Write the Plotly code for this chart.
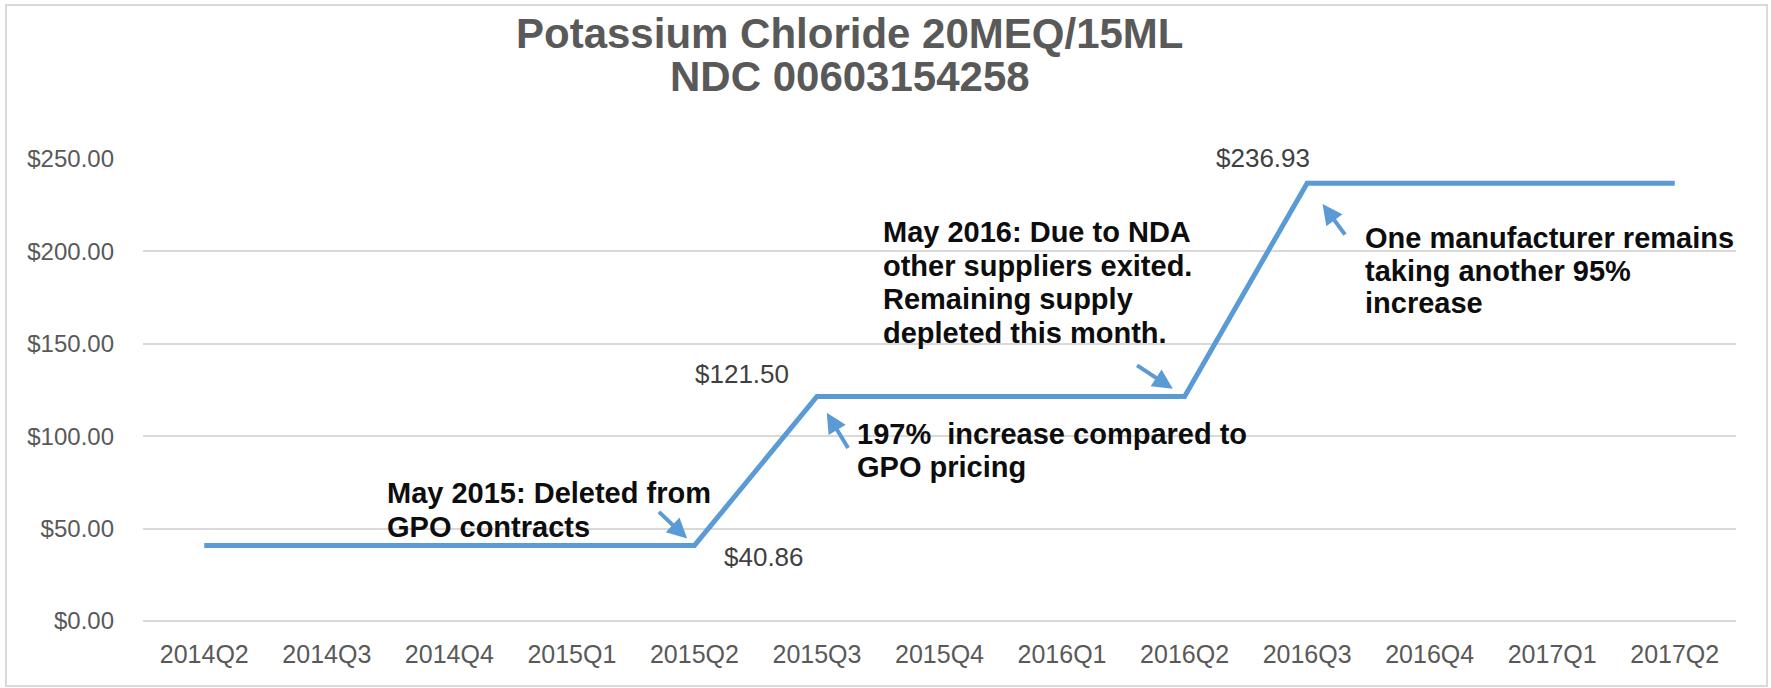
import plotly.graph_objects as go

quarters = ["2014Q2", "2014Q3", "2014Q4", "2015Q1", "2015Q2", "2015Q3", "2015Q4",
            "2016Q1", "2016Q2", "2016Q3", "2016Q4", "2017Q1", "2017Q2"]
prices = [40.86, 40.86, 40.86, 40.86, 40.86, 121.50, 121.50, 121.50, 121.50,
          236.93, 236.93, 236.93, 236.93]
y_ticks = [0, 50, 100, 150, 200, 250]
y_tick_labels = ["$0.00", "$50.00", "$100.00", "$150.00", "$200.00", "$250.00"]

title_lines = ["Potassium Chloride 20MEQ/15ML", "NDC 00603154258"]
note_2015 = ["May 2015: Deleted from", "GPO contracts"]
note_197 = ["197%  increase compared to", "GPO pricing"]
note_2016 = ["May 2016: Due to NDA", "other suppliers exited.", "Remaining supply", "depleted this month."]
note_one = ["One manufacturer remains", "taking another 95%", "increase"]

LINE_COLOR = "#5B9BD5"
W, H = 1771, 688
L, R, T, B = 143, 35, 159, 67
PW, PH = W - L - R, H - T - B
FONT = "Liberation Sans, Arial"


def px(x):
    return (x - L) / PW


def py(y):
    return (H - B - y) / PH


fig = go.Figure()
fig.add_trace(go.Scatter(x=quarters, y=prices, mode="lines",
                         line=dict(color=LINE_COLOR, width=5), hoverinfo="skip",
                         showlegend=False))

ann = []
for i, t in enumerate(title_lines):
    ann.append(dict(text="<b>%s</b>" % t, xref="paper", yref="paper", x=px(850), y=py(33 + 44 * i),
                    xanchor="center", yanchor="middle", showarrow=False,
                    font=dict(family=FONT, size=42, color="#595959")))


def block(lines, left, first_y, spacing=33.5):
    for i, t in enumerate(lines):
        ann.append(dict(text="<b>%s</b>" % t, xref="paper", yref="paper", x=px(left),
                        y=py(first_y + spacing * i), xanchor="left", yanchor="middle",
                        showarrow=False,
                        font=dict(family=FONT, size=29, color="#0d0d0d")))


block(note_2015, 385, 493)
block(note_197, 855, 434, 32.5)
block(note_2016, 881, 232)
block(note_one, 1363, 238, 32.5)

val_font = dict(family=FONT, size=26, color="#404040")
ann.append(dict(x=quarters[4], y=prices[4], text="$%.2f" % prices[4], showarrow=False,
                xanchor="left", yanchor="middle", xshift=28, yshift=-12, font=val_font))
ann.append(dict(x=quarters[5], y=prices[5], text="$%.2f" % prices[5], showarrow=False,
                xanchor="right", yanchor="middle", xshift=-26, yshift=22, font=val_font))
ann.append(dict(x=quarters[9], y=prices[9], text="$%.2f" % prices[9], showarrow=False,
                xanchor="center", yanchor="middle", xshift=-44, yshift=25, font=val_font))

arrow_specs = [(4, -37, -35, 10), (5, 32, 53, 19), (8, -49, -32, 14), (9, 39, 53, 26)]
for idx, ax, ay, so in arrow_specs:
    ann.append(dict(x=quarters[idx], y=prices[idx], text="", showarrow=True, ax=ax, ay=ay,
                    arrowhead=2, arrowsize=1, arrowwidth=4, arrowcolor=LINE_COLOR,
                    standoff=so))

fig.update_layout(
    width=W, height=H, margin=dict(l=L, r=R, t=T, b=B, autoexpand=False),
    paper_bgcolor="white", plot_bgcolor="white",
    annotations=ann,
    shapes=[dict(type="rect", xref="paper", yref="paper", x0=px(6), x1=px(1767), y0=py(686), y1=py(5),
                 line=dict(color="#d9d9d9", width=2), fillcolor="rgba(0,0,0,0)", layer="below")],
    xaxis=dict(type="category", range=[-0.5, 12.5], showgrid=False, showline=False, ticks="",
               tickfont=dict(family=FONT, size=25, color="#595959"),
               ticklabelstandoff=16, fixedrange=True),
    yaxis=dict(range=[0, 250], tickvals=y_ticks, ticktext=y_tick_labels,
               showgrid=True, gridcolor="#d9d9d9", gridwidth=1.5, zeroline=True,
               zerolinecolor="#d9d9d9", zerolinewidth=1.5, showline=False, ticks="",
               tickfont=dict(family=FONT, size=24, color="#595959"),
               ticklabelstandoff=28, fixedrange=True),
)

fig.write_html("out.html", config={"displayModeBar": False},
               post_script="document.body.style.margin='0';document.body.style.overflow='hidden';")
